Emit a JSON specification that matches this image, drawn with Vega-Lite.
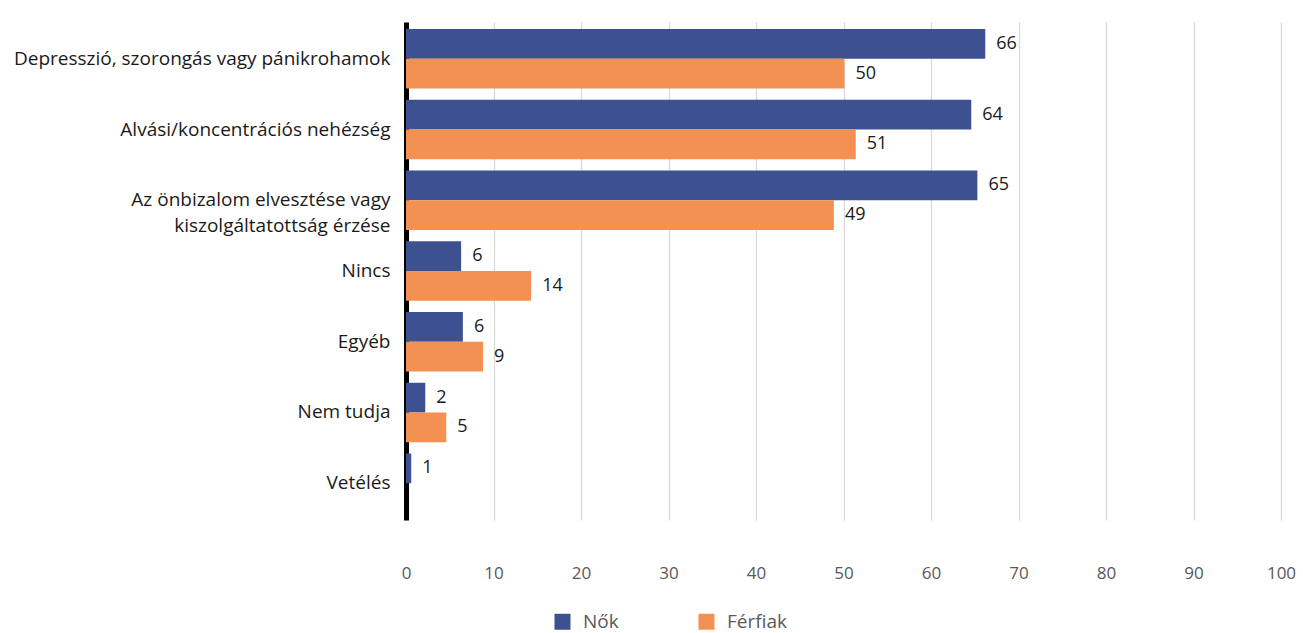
{
  "$schema": "https://vega.github.io/schema/vega-lite/v6.json",
  "autosize": {"type": "none"},
  "width": 875,
  "height": 498,
  "padding": {"left": 406, "top": 22, "right": 22, "bottom": 113},
  "background": "white",
  "config": {
    "view": {"stroke": null},
    "font": "Open Sans"
  },
  "data": {
    "values": [
      {"kat": "Depresszió, szorongás vagy pánikrohamok", "nem": "Nők", "ertek": 66.2, "cimke": "66"},
      {"kat": "Depresszió, szorongás vagy pánikrohamok", "nem": "Férfiak", "ertek": 50.1, "cimke": "50"},
      {"kat": "Alvási/koncentrációs nehézség", "nem": "Nők", "ertek": 64.6, "cimke": "64"},
      {"kat": "Alvási/koncentrációs nehézség", "nem": "Férfiak", "ertek": 51.4, "cimke": "51"},
      {"kat": "Az önbizalom elvesztése vagy|kiszolgáltatottság érzése", "nem": "Nők", "ertek": 65.3, "cimke": "65"},
      {"kat": "Az önbizalom elvesztése vagy|kiszolgáltatottság érzése", "nem": "Férfiak", "ertek": 48.9, "cimke": "49"},
      {"kat": "Nincs", "nem": "Nők", "ertek": 6.3, "cimke": "6"},
      {"kat": "Nincs", "nem": "Férfiak", "ertek": 14.3, "cimke": "14"},
      {"kat": "Egyéb", "nem": "Nők", "ertek": 6.5, "cimke": "6"},
      {"kat": "Egyéb", "nem": "Férfiak", "ertek": 8.8, "cimke": "9"},
      {"kat": "Nem tudja", "nem": "Nők", "ertek": 2.2, "cimke": "2"},
      {"kat": "Nem tudja", "nem": "Férfiak", "ertek": 4.6, "cimke": "5"},
      {"kat": "Vetélés", "nem": "Nők", "ertek": 0.6, "cimke": "1"}
    ]
  },
  "encoding": {
    "y": {
      "field": "kat",
      "type": "nominal",
      "sort": null,
      "title": null,
      "scale": {"paddingInner": 0.16, "paddingOuter": 0.1},
      "axis": {
        "labelExpr": "split(datum.label, '|')",
        "labelFontSize": 19,
        "labelColor": "#1a1a1a",
        "labelLineHeight": 26,
        "labelPadding": 16,
        "labelLimit": 500,
        "ticks": false,
        "domainColor": "#000000",
        "domainWidth": 5,
        "grid": false
      }
    },
    "yOffset": {"field": "nem", "type": "nominal", "sort": ["Nők", "Férfiak"], "scale": {"domain": ["Nők", "Férfiak"]}},
    "x": {
      "field": "ertek",
      "type": "quantitative",
      "title": null,
      "scale": {"domain": [0, 100], "nice": false},
      "axis": {
        "values": [0, 10, 20, 30, 40, 50, 60, 70, 80, 90, 100],
        "labelFontSize": 17,
        "labelColor": "#595959",
        "labelPadding": 45,
        "labelFlush": false,
        "ticks": false,
        "domain": false,
        "grid": true,
        "gridColor": "#d9d9d9",
        "gridWidth": 1.3
      }
    }
  },
  "layer": [
    {
      "mark": {"type": "bar"},
      "encoding": {
        "color": {
          "field": "nem",
          "type": "nominal",
          "scale": {"domain": ["Nők", "Férfiak"], "range": ["#3d5190", "#f39153"]},
          "legend": {
            "title": null,
            "orient": "none",
            "direction": "horizontal",
            "legendX": 147,
            "legendY": 590,
            "symbolType": "square",
            "symbolSize": 256,
            "symbolStrokeWidth": 0,
            "labelFontSize": 19,
            "labelColor": "#595959",
            "labelOffset": 11,
            "columnPadding": 78
          }
        }
      }
    },
    {
      "mark": {"type": "text", "align": "left", "baseline": "middle", "dx": 11, "fontSize": 18, "color": "#1a1a1a"},
      "encoding": {
        "text": {"field": "cimke", "type": "nominal"}
      }
    }
  ]
}
